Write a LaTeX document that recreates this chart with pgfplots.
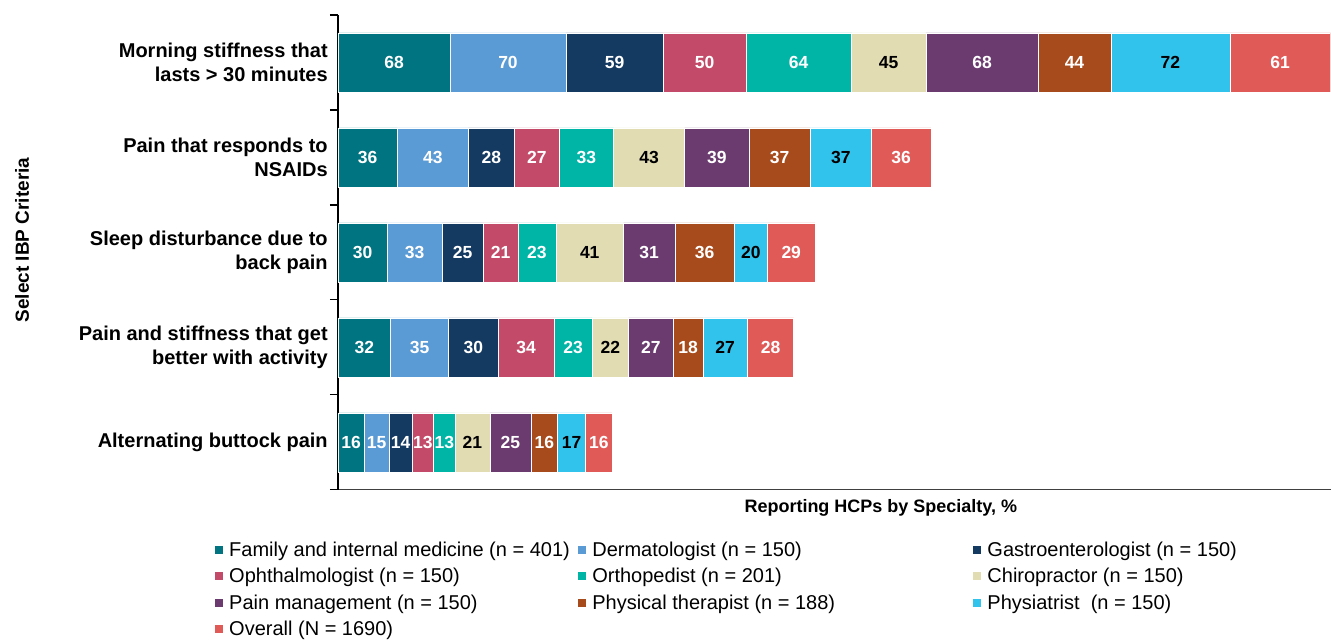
\documentclass[border=0pt]{standalone}
\usepackage{pgfplots}
\pgfplotsset{compat=1.18}
\usepackage{fontspec}
\setmainfont{Liberation Sans}
\definecolor{famc}{RGB}{0,116,128}
\definecolor{dermc}{RGB}{91,155,213}
\definecolor{gastc}{RGB}{21,58,98}
\definecolor{ophc}{RGB}{195,75,105}
\definecolor{orthc}{RGB}{0,180,166}
\definecolor{chic}{RGB}{225,220,178}
\definecolor{painc}{RGB}{107,59,112}
\definecolor{ptc}{RGB}{168,75,28}
\definecolor{physc}{RGB}{50,195,236}
\definecolor{ovc}{RGB}{224,90,88}
\begin{document}
\begin{tikzpicture}
\begin{axis}[
  name=ax,
  width=993pt, height=475pt, scale only axis,
  xbar stacked, bar width=59pt,
  xmin=0, xmax=601,
  ymin=-0.5, ymax=4.5,
  axis x line*=bottom, axis y line*=left,
  x axis line style={draw=black!75, line width=1pt},
  y axis line style={draw=black, line width=1.5pt},
  xtick=\empty,
  ytick={0,1,2,3,4},
  yticklabels={Alternating buttock pain,
    Pain and stiffness that get\\better with activity,
    Sleep disturbance due to\\back pain,
    Pain that responds to\\NSAIDs,
    Morning stiffness that\\lasts > 30 minutes},
  major tick length=0pt,
  minor ytick={-0.5,0.5,1.5,2.5,3.5,4.5},
  minor tick length=8pt,
  tick align=outside,
  every minor tick/.style={line width=1.2pt, black},
  yticklabel style={align=right, inner sep=0pt, xshift=-10pt,
    font=\bfseries\fontsize{20}{23.5}\selectfont},
  ylabel={Select IBP Criteria},
  ylabel style={at={(axis description cs:-0.3182,0.526)}, anchor=center,
    font=\bfseries\fontsize{19}{21}\selectfont},
  xlabel={Reporting HCPs by Specialty, \%},
  xlabel style={at={(axis description cs:0.547,0)}, anchor=north, inner sep=0pt, yshift=-9pt,
    font=\bfseries\fontsize{18}{20}\selectfont},
  nodes near coords={\pgfmathprintnumber[assume math mode=true]{\pgfplotspointmeta}},
  every node near coord/.append style={anchor=center,
    font=\bfseries\fontsize{17.5}{19}\selectfont, text=white},
  legend columns=3,
  legend cell align=left,
  legend style={draw=none, at={(axis description cs:-0.127,-0.101)}, anchor=north west,
    font=\fontsize{20}{22}\selectfont, row sep=6.5pt,
    nodes={inner sep=2pt}},
  legend image code/.code={\fill[#1, draw=none] (0pt,-4pt) rectangle (8pt,4pt); \path (12pt,0pt);},
]
\addplot[fill=famc, draw=white, line width=0.5pt] coordinates {(16,0) (32,1) (30,2) (36,3) (68,4)};
\addlegendentry{\makebox[347pt][l]{Family and internal medicine (n = 401)}}
\addplot[fill=dermc, draw=white, line width=0.5pt] coordinates {(15,0) (35,1) (33,2) (43,3) (70,4)};
\addlegendentry{\makebox[379pt][l]{Dermatologist (n = 150)}}
\addplot[fill=gastc, draw=white, line width=0.5pt] coordinates {(14,0) (30,1) (25,2) (28,3) (59,4)};
\addlegendentry{Gastroenterologist (n = 150)}
\addplot[fill=ophc, draw=white, line width=0.5pt] coordinates {(13,0) (34,1) (21,2) (27,3) (50,4)};
\addlegendentry{Ophthalmologist (n = 150)}
\addplot[fill=orthc, draw=white, line width=0.5pt] coordinates {(13,0) (23,1) (23,2) (33,3) (64,4)};
\addlegendentry{Orthopedist (n = 201)}
\addplot[fill=chic, draw=white, line width=0.5pt, every node near coord/.append style={text=black}] coordinates {(21,0) (22,1) (41,2) (43,3) (45,4)};
\addlegendentry{Chiropractor (n = 150)}
\addplot[fill=painc, draw=white, line width=0.5pt] coordinates {(25,0) (27,1) (31,2) (39,3) (68,4)};
\addlegendentry{Pain management (n = 150)}
\addplot[fill=ptc, draw=white, line width=0.5pt] coordinates {(16,0) (18,1) (36,2) (37,3) (44,4)};
\addlegendentry{Physical therapist (n = 188)}
\addplot[fill=physc, draw=white, line width=0.5pt, every node near coord/.append style={text=black}] coordinates {(17,0) (27,1) (20,2) (37,3) (72,4)};
\addlegendentry{Physiatrist\ \ (n = 150)}
\addplot[fill=ovc, draw=white, line width=0.5pt] coordinates {(16,0) (28,1) (29,2) (36,3) (61,4)};
\addlegendentry{Overall (N = 1690)}
\end{axis}
\path (ax.south west) ++(-338pt,-146pt);
\path (ax.north east) ++(0pt,15pt);
\end{tikzpicture}
\end{document}
